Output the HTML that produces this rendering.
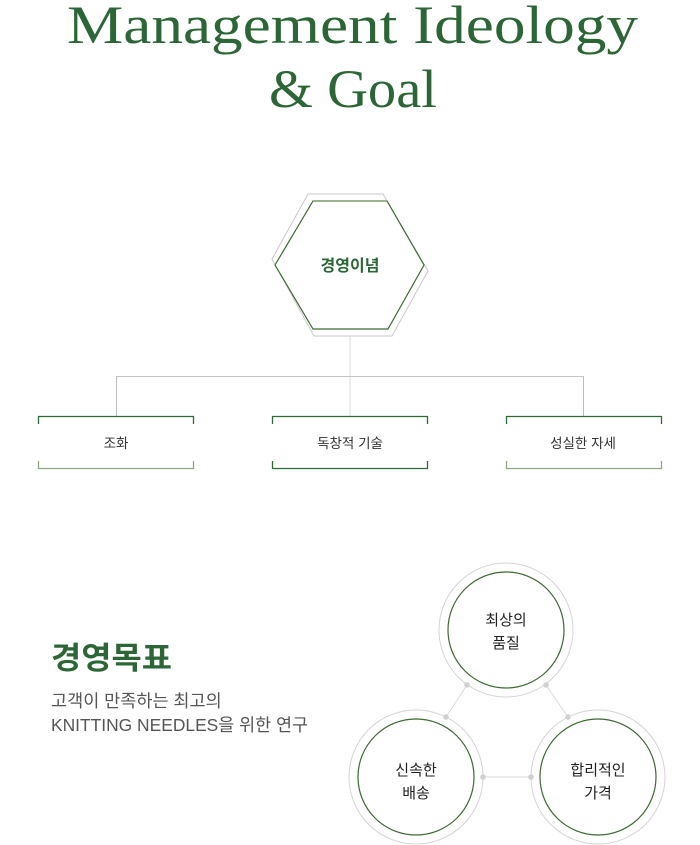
<!DOCTYPE html>
<html><head><meta charset="utf-8">
<style>
html,body{margin:0;padding:0;background:#fff;}
svg{display:block;}
.kr{font-family:"Liberation Sans","Noto Sans CJK KR",sans-serif;}
</style></head>
<body>
<svg width="700" height="845" viewBox="0 0 700 845" xmlns="http://www.w3.org/2000/svg">
  <!-- Heading -->
  <text x="67" y="43" font-family="Liberation Serif, serif" font-size="54" fill="#2c6636" textLength="571" lengthAdjust="spacingAndGlyphs">Management Ideology</text>
  <text x="269" y="107" font-family="Liberation Serif, serif" font-size="54" fill="#2c6636" textLength="168" lengthAdjust="spacingAndGlyphs">&amp; Goal</text>

  <!-- Hexagons -->
  <polygon points="308,194 383,194 428,271 392,336 314,336 272,259" fill="none" stroke="#c8c8c8" stroke-width="1"/>
  <polygon points="313,201 387,201 424,265 388,329 313,329 275,265" fill="#fff" stroke="#3b6b32" stroke-width="1.2"/>
  <line x1="313" y1="201" x2="387" y2="201" stroke="#8aa47c" stroke-width="1.5"/>
  <text x="350" y="271" text-anchor="middle" class="kr" font-size="16" font-weight="bold" fill="#2c6636">경영이념</text>

  <!-- Connectors -->
  <line x1="350" y1="336" x2="350" y2="416" stroke="#dcdcdc" stroke-width="1"/>
  <line x1="116" y1="376.5" x2="583" y2="376.5" stroke="#c4c4c4" stroke-width="1"/>
  <line x1="116.5" y1="376" x2="116.5" y2="416" stroke="#bdbdbd" stroke-width="1"/>
  <line x1="583.5" y1="376" x2="583.5" y2="416" stroke="#bdbdbd" stroke-width="1"/>

  <!-- Boxes -->
  <g fill="none" stroke-width="1.3">
    <path d="M38.5,424 V416.5 H193.5 V424" stroke="#2f6a35"/>
    <path d="M38.5,461 V468.5 H193.5 V461" stroke="#8fa883"/>
    <path d="M272.5,424 V416.5 H427.5 V424" stroke="#2f6a35"/>
    <path d="M272.5,461 V468.5 H427.5 V461" stroke="#2f6a35"/>
    <path d="M506.5,424 V416.5 H661.5 V424" stroke="#2f6a35"/>
    <path d="M506.5,461 V468.5 H661.5 V461" stroke="#8fa883"/>
  </g>
  <text x="116" y="448" text-anchor="middle" class="kr" font-size="13.5" fill="#333">조화</text>
  <text x="350" y="448" text-anchor="middle" class="kr" font-size="13.5" fill="#333">독창적 기술</text>
  <text x="583" y="448" text-anchor="middle" class="kr" font-size="13.5" fill="#333">성실한 자세</text>

  <!-- Goal text -->
  <text x="51" y="669" class="kr" font-size="31" font-weight="bold" fill="#2c6636" textLength="121" lengthAdjust="spacingAndGlyphs">경영목표</text>
  <text x="51" y="707" class="kr" font-size="17.5" fill="#555">고객이 만족하는 최고의</text>
  <text x="51" y="731" class="kr" font-size="17.5" fill="#555" textLength="257" lengthAdjust="spacingAndGlyphs">KNITTING NEEDLES을 위한 연구</text>

  <!-- Circle connectors -->
  <g stroke="#dadada" stroke-width="1">
    <line x1="467" y1="685" x2="446" y2="717"/>
    <line x1="546" y1="685" x2="568" y2="717"/>
    <line x1="483" y1="777" x2="531" y2="777"/>
  </g>
  <g fill="#cfcfcf">
    <circle cx="467" cy="685" r="2.8"/>
    <circle cx="446" cy="717" r="2.8"/>
    <circle cx="546" cy="685" r="2.8"/>
    <circle cx="568" cy="717" r="2.8"/>
    <circle cx="483" cy="777" r="2.8"/>
    <circle cx="531" cy="777" r="2.8"/>
  </g>

  <!-- Circles -->
  <g fill="none">
    <circle cx="506" cy="630" r="67" stroke="#d4d4d4" stroke-width="1"/>
    <circle cx="506" cy="630" r="58" stroke="#3b6b32" stroke-width="1.2"/>
    <circle cx="416" cy="777" r="67" stroke="#d4d4d4" stroke-width="1"/>
    <circle cx="416" cy="777" r="58" stroke="#3b6b32" stroke-width="1.2"/>
    <circle cx="598" cy="777" r="67" stroke="#d4d4d4" stroke-width="1"/>
    <circle cx="598" cy="777" r="58" stroke="#3b6b32" stroke-width="1.2"/>
  </g>
  <g class="kr" font-size="15" fill="#222" text-anchor="middle">
    <text x="506" y="625">최상의</text>
    <text x="506" y="648">품질</text>
    <text x="416" y="775">신속한</text>
    <text x="416" y="798">배송</text>
    <text x="598" y="775">합리적인</text>
    <text x="598" y="798">가격</text>
  </g>
</svg>
</body></html>
